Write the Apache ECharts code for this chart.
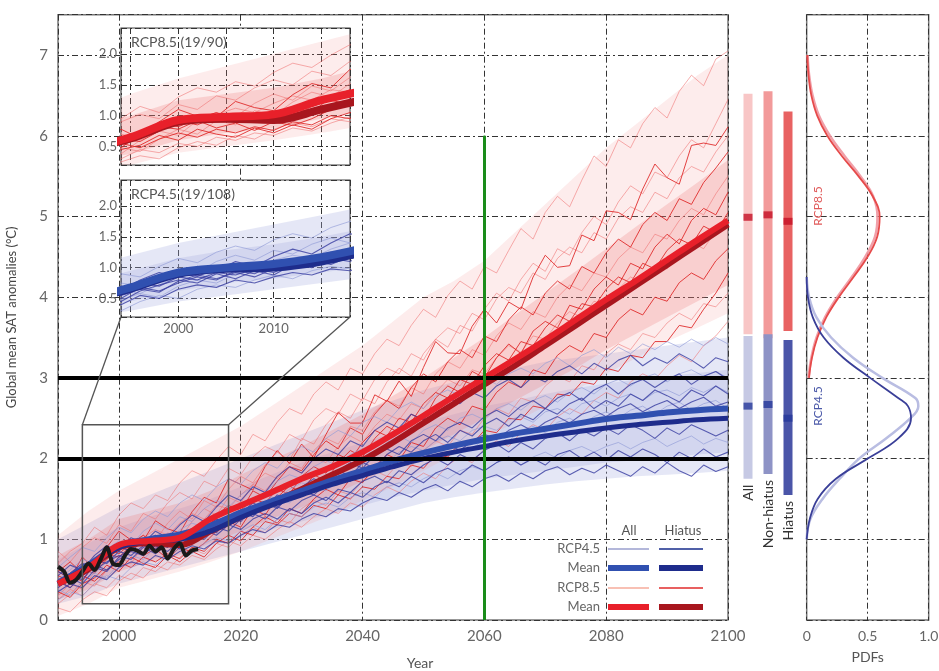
<!DOCTYPE html>
<html><head><meta charset="utf-8">
<script src="https://cdn.jsdelivr.net/npm/echarts@6/dist/echarts.min.js"></script>
<style>html,body{margin:0;padding:0;background:#fff}#c{width:939px;height:671px}</style>
</head><body><div id="c"></div>
<script>
// ---------- DATA ----------
const years2 = [1990,1992,1994,1996,1998,2000,2002,2004,2006,2008,
 2010,2012,2014,2016,2018,2020,2022,2024,2026,2028,
 2030,2032,2034,2036,2038,2040,2042,2044,2046,2048,
 2050,2052,2054,2056,2058,2060,2062,2064,2066,2068,
 2070,2072,2074,2076,2078,2080,2082,2084,2086,2088,
 2090,2092,2094,2096,2098,2100];
const years5 = [1990,1995,2000,2005,2010,2015,2020,2025,2030,2035,2040,2045,2050,2055,2060,2065,2070,2075,2080,2085,2090,2095,2100];

// RCP8.5 hiatus members
const h1 = [.60,.51,.78,.63,.90,1.10,.99,.98,1.23,1.13, 1.08,1.34,1.52,1.45,1.75,1.68,1.61,1.90,2.10,1.94, 2.18,2.01,2.30,2.57,2.44,2.44,2.79,2.71,2.96,2.77, 3.13,3.45,3.31,3.30,3.64,3.85,3.68,3.94,3.85,4.25, 4.52,4.37,4.39,4.77,4.70,5.07,5.05,4.96,5.34,5.65, 5.48,5.40,5.88,5.91,5.88,6.11];
const h2 = [.42,.55,.48,.70,.82,.78,.92,.80,.88,.76, .90,.84,.95,1.10,1.22,1.15,1.38,1.30,1.52,1.66, 1.58,1.80,1.72,1.95,2.10,2.02,2.25,2.40,2.32,2.55, 2.48,2.75,2.90,2.82,3.08,3.00,3.25,3.42,3.30,3.58, 3.70,3.62,3.90,3.85,4.10,4.25,4.15,4.42,4.35,4.62, 4.78,4.66,4.95,5.10,5.02,5.30];
const h3 = [.35,.28,.45,.52,.68,.60,.78,.70,.65,.80, .72,.85,.78,.95,1.05,.98,1.15,1.28,1.20,1.38, 1.32,1.50,1.62,1.55,1.75,1.70,1.90,2.05,1.98,2.20, 2.15,2.38,2.50,2.42,2.65,2.60,2.82,2.95,2.88,3.10, 3.05,3.28,3.40,3.32,3.55,3.50,3.72,3.85,3.78,4.00, 3.95,4.18,4.30,4.22,4.45,4.60];
const h4 = [.55,.48,.62,.58,.75,.92,.85,.98,.90,.95, 1.05,.98,1.15,1.25,1.18,1.35,1.50,1.45,1.62,1.56, 1.78,1.90,1.82,2.05,1.98,2.20,2.35,2.28,2.50,2.45, 2.68,2.82,2.75,2.98,2.92,3.15,3.30,3.22,3.45,3.40, 3.62,3.78,3.70,3.92,3.88,4.10,4.25,4.18,4.42,4.35, 4.58,4.72,4.65,4.88,4.80,5.05];
const h5 = [.60,.72,.58,.66,.90,.82,.95,1.05,.92,1.00, .95,1.12,1.05,1.30,1.42,1.35,1.60,1.52,1.72,1.90, 1.85,2.05,2.22,2.12,2.38,2.30,2.55,2.72,2.62,2.88, 3.05,2.95,3.20,3.35,3.25,3.52,3.45,3.72,3.88,3.78, 4.05,4.20,4.10,4.38,4.30,4.55,4.72,4.62,4.90,5.05, 4.95,5.22,5.15,5.42,5.60,5.80];
const h6 = [.50,.40,.55,.48,.62,.72,.65,.78,.72,.82, .76,.90,.85,1.00,.95,1.10,1.05,1.22,1.18,1.32, 1.28,1.42,1.38,1.55,1.50,1.65,1.62,1.78,1.75,1.92, 1.88,2.05,2.02,2.20,2.18,2.35,2.32,2.50,2.48,2.65, 2.62,2.80,2.78,2.95,2.92,3.12,3.08,3.28,3.25,3.45, 3.45,3.65,3.62,3.85,4.05,4.30];
// RCP8.5 all members
const p1 = [.70,.85,.95,1.15,1.05,1.30,1.45,1.38,1.55,1.48, 1.70,1.85,1.78,1.98,2.15,2.05,2.30,2.22,2.45,2.62, 2.55,2.80,2.95,2.85,3.12,3.05,3.30,3.48,3.40,3.65, 3.85,3.75,4.02,4.20,4.10,4.38,4.30,4.58,4.85,4.72, 5.05,5.25,5.12,5.45,5.75,5.62,5.95,5.85,6.15,6.35, 6.22,6.55,6.75,6.62,6.95,7.05];
const p2 = [.30,.45,.38,.60,.75,.68,.92,1.05,.98,1.20, 1.35,1.25,1.48,1.40,1.62,1.78,1.70,1.92,2.08,1.98, 2.25,2.18,2.42,2.58,2.50,2.75,2.68,2.95,3.12,3.02, 3.30,3.48,3.38,3.65,3.58,3.85,4.05,3.95,4.22,4.42, 4.32,4.60,4.52,4.80,5.00,4.90,5.18,5.38,5.28,5.55, 5.48,5.75,5.95,5.85,6.15,6.45];
const p3 = [.20,.32,.48,.42,.62,.78,.70,.92,.85,1.08, 1.00,1.22,1.38,1.30,1.52,1.45,1.68,1.82,1.75,1.95, 1.88,2.10,2.25,2.18,2.40,2.35,2.58,2.72,2.65,2.88, 2.80,3.05,3.20,3.12,3.35,3.28,3.52,3.68,3.60,3.82, 3.75,4.00,4.15,4.08,4.30,4.25,4.48,4.62,4.55,4.78, 4.72,4.95,5.10,5.02,5.28,5.50];
const p4 = [.15,.10,.25,.35,.30,.48,.58,.52,.68,.62, .78,.88,.82,.95,.90,1.05,1.15,1.08,1.25,1.20, 1.38,1.48,1.42,1.60,1.55,1.72,1.85,1.78,1.95,1.90, 2.10,2.22,2.15,2.35,2.30,2.50,2.62,2.55,2.75,2.70, 2.90,3.02,2.95,3.15,3.10,3.30,3.42,3.35,3.55,3.50, 3.68,3.80,3.72,3.92,3.88,4.05];
const p5 = [.85,.72,.90,1.02,.95,1.18,1.10,1.32,1.25,1.45, 1.58,1.50,1.72,1.65,1.88,1.80,2.02,2.15,2.08,2.30, 2.22,2.48,2.62,2.55,2.80,2.72,2.98,3.12,3.05,3.30, 3.22,3.48,3.62,3.55,3.80,3.72,3.98,4.12,4.05,4.30, 4.22,4.48,4.62,4.55,4.80,4.72,4.98,5.12,5.05,5.30, 5.22,5.48,5.62,5.55,5.80,6.00];
const p6 = [.25,.38,.30,.45,.40,.55,.50,.65,.60,.72, .68,.80,.75,.88,.98,.92,1.05,1.00,1.12,1.22, 1.15,1.28,1.38,1.32,1.45,1.40,1.55,1.65,1.58,1.72, 1.82,1.75,1.92,2.02,1.95,2.12,2.22,2.15,2.32,2.42, 2.35,2.52,2.62,2.55,2.72,2.82,2.75,2.95,3.05,2.98, 3.15,3.28,3.20,3.40,3.52,3.70];
const p7 = [.45,.58,.70,.62,.85,.95,.88,1.02,1.12,1.05, 1.20,1.32,1.25,1.42,1.38,1.55,1.68,1.60,1.78,1.90, 1.82,2.00,1.95,2.15,2.28,2.20,2.40,2.55,2.48,2.68, 2.62,2.82,2.98,2.90,3.10,3.05,3.25,3.40,3.32,3.52, 3.48,3.68,3.82,3.75,3.95,3.90,4.10,4.25,4.18,4.40, 4.35,4.55,4.68,4.60,4.82,5.00];
// RCP4.5 hiatus members
const b1 = [.55,.68,.62,.80,.92,.85,1.02,.95,1.10,1.02, 1.18,1.30,1.22,1.40,1.55,1.48,1.65,1.58,1.78,1.90, 1.82,2.00,2.12,2.05,2.22,2.15,2.35,2.45,2.38,2.55, 2.48,2.65,2.75,2.68,2.82,2.75,2.90,2.98,2.88,3.02, 2.95,3.08,3.15,3.05,3.18,3.10,3.22,3.28,3.15,3.25, 3.18,3.30,3.22,3.12,3.25,3.20];
const b2 = [.40,.52,.45,.62,.72,.80,.75,.90,.82,.95, .88,1.05,1.15,1.08,1.25,1.35,1.28,1.45,1.38,1.55, 1.65,1.58,1.75,1.85,1.78,1.95,1.88,2.05,2.15,2.08, 2.22,2.30,2.20,2.35,2.28,2.42,2.50,2.40,2.55,2.48, 2.62,2.55,2.68,2.75,2.62,2.72,2.65,2.80,2.72,2.85, 2.78,2.70,2.85,2.78,2.90,2.80];
const b3 = [.48,.40,.55,.65,.60,.78,.88,.82,.92,.85, .98,1.08,1.00,1.15,1.10,1.25,1.32,1.25,1.40,1.35, 1.48,1.55,1.48,1.62,1.58,1.72,1.78,1.70,1.85,1.80, 1.92,2.00,1.92,2.05,1.98,2.10,2.18,2.08,2.20,2.12, 2.25,2.32,2.22,2.35,2.28,2.38,2.30,2.42,2.35,2.25, 2.38,2.30,2.42,2.35,2.28,2.35];
const b4 = [.35,.45,.40,.55,.50,.65,.72,.68,.80,.75, .85,.92,.88,.98,.95,1.05,1.12,1.08,1.18,1.15, 1.25,1.32,1.28,1.38,1.35,1.45,1.52,1.48,1.58,1.52, 1.62,1.68,1.60,1.72,1.65,1.75,1.80,1.72,1.82,1.75, 1.85,1.90,1.80,1.88,1.82,1.92,1.85,1.78,1.90,1.82, 1.95,1.85,1.78,1.92,1.84,1.90];
const b5 = [.60,.52,.68,.75,.70,.85,.80,.92,.88,.98, .92,1.05,1.12,1.05,1.18,1.12,1.25,1.32,1.25,1.38, 1.32,1.45,1.52,1.45,1.58,1.52,1.65,1.72,1.65,1.78, 1.70,1.82,1.88,1.80,1.92,1.85,1.95,2.02,1.92,2.00, 1.92,2.05,2.10,2.00,2.08,1.98,2.10,2.02,2.12,2.05, 1.95,2.08,2.00,2.12,2.02,2.08];
const b6 = [.50,.58,.70,.65,.82,.90,.86,.98,1.05,.96, 1.02,1.10,1.18,1.12,1.28,1.22,1.38,1.45,1.40,1.52, 1.60,1.55,1.68,1.78,1.72,1.85,1.92,1.86,1.98,2.06, 2.00,2.12,2.18,2.10,2.22,2.30,2.24,2.35,2.42,2.34, 2.45,2.52,2.44,2.55,2.60,2.52,2.62,2.68,2.58,2.66, 2.72,2.62,2.70,2.76,2.65,2.70];
const b7 = [.45,.55,.50,.68,.62,.75,.85,.80,.95,.90, 1.05,1.00,1.12,1.25,1.18,1.32,1.45,1.38,1.55,1.50, 1.65,1.75,1.68,1.85,1.95,1.88,2.05,2.12,2.05,2.22, 2.30,2.22,2.38,2.45,2.38,2.52,2.60,2.52,2.65,2.72, 2.62,2.75,2.82,2.72,2.85,2.92,2.80,2.92,2.98,2.88, 2.98,3.05,2.92,3.02,3.08,2.98];
// RCP4.5 all members
const l1 = [.65,.78,.90,.85,1.02,1.15,1.08,1.25,1.35,1.28, 1.45,1.55,1.48,1.65,1.75,1.68,1.85,1.95,1.88,2.05, 2.15,2.08,2.25,2.35,2.28,2.45,2.52,2.45,2.62,2.70, 2.62,2.78,2.85,2.78,2.92,3.00,2.92,3.05,3.12,3.05, 3.18,3.25,3.15,3.28,3.35,3.25,3.38,3.30,3.42,3.35, 3.45,3.38,3.48,3.40,3.50,3.42];
const l2 = [.50,.62,.75,.70,.88,.98,.92,1.10,1.20,1.12, 1.28,1.22,1.38,1.48,1.40,1.55,1.65,1.58,1.72,1.80, 1.75,1.90,1.98,1.90,2.05,2.12,2.05,2.20,2.28,2.20, 2.35,2.42,2.35,2.50,2.55,2.48,2.62,2.68,2.60,2.72, 2.78,2.70,2.82,2.88,2.80,2.92,2.98,2.90,3.00,3.05, 2.95,3.05,3.10,3.02,3.08,3.00];
const l3 = [.38,.30,.48,.58,.52,.70,.80,.75,.90,1.00, .95,1.08,1.18,1.12,1.25,1.32,1.28,1.42,1.50,1.45, 1.58,1.65,1.60,1.72,1.80,1.75,1.88,1.95,1.90,2.02, 2.08,2.02,2.15,2.20,2.12,2.25,2.30,2.22,2.35,2.40, 2.32,2.45,2.50,2.42,2.52,2.58,2.50,2.60,2.65,2.55, 2.65,2.70,2.60,2.68,2.72,2.62];
const l4 = [.25,.35,.30,.45,.55,.50,.65,.72,.68,.80, .88,.82,.95,1.02,.98,1.10,1.18,1.12,1.25,1.32, 1.28,1.40,1.45,1.40,1.52,1.58,1.52,1.65,1.70,1.65, 1.75,1.82,1.75,1.85,1.90,1.85,1.95,2.00,1.92,2.02, 2.08,2.00,2.10,2.15,2.08,2.15,2.20,2.12,2.20,2.25, 2.15,2.22,2.28,2.18,2.25,2.20];
const l5 = [.42,.52,.62,.58,.72,.85,.80,.95,1.05,.98, 1.12,1.20,1.15,1.30,1.40,1.35,1.48,1.55,1.50,1.62, 1.70,1.65,1.78,1.85,1.80,1.92,2.00,1.95,2.08,2.15, 2.10,2.22,2.28,2.22,2.35,2.40,2.35,2.48,2.52,2.45, 2.58,2.62,2.55,2.68,2.72,2.65,2.75,2.80,2.72,2.82, 2.85,2.78,2.88,2.82,2.90,2.82];

// ensemble envelopes (5-yearly): full range and central core
const lower85 = [.05,.2,.4,.5,.6,.72,.85,1.0,1.15,1.3,1.48,1.65,1.85,2.05,2.25,2.45,2.65,2.85,3.05,3.25,3.45,3.62,3.8];
const upper85 = [1.05,1.35,1.6,1.8,2.0,2.2,2.4,2.65,2.9,3.15,3.4,3.7,4.0,4.2,4.45,4.8,5.15,5.5,5.85,6.15,6.45,6.75,7.0];
const core85Lo = [.25,.38,.6,.72,.8,.95,1.1,1.25,1.4,1.55,1.72,1.9,2.1,2.3,2.5,2.72,2.92,3.12,3.35,3.55,3.75,3.95,4.15];
const core85Hi = [.8,1.0,1.25,1.35,1.45,1.6,1.8,1.98,2.15,2.35,2.55,2.78,3.0,3.25,3.5,3.78,4.05,4.32,4.6,4.88,5.15,5.42,5.7];
const lower45 = [.2,.3,.45,.55,.65,.75,.85,.95,1.05,1.15,1.25,1.35,1.45,1.52,1.58,1.63,1.68,1.72,1.75,1.78,1.8,1.82,1.85];
const upper45 = [1.0,1.2,1.4,1.55,1.7,1.85,2.0,2.15,2.3,2.45,2.6,2.72,2.85,2.95,3.05,3.12,3.2,3.25,3.3,3.35,3.4,3.45,3.5];
const core45Lo = [.3,.45,.62,.75,.82,.92,1.02,1.12,1.22,1.32,1.42,1.52,1.6,1.68,1.75,1.8,1.85,1.9,1.95,1.98,2.02,2.05,2.08];
const core45Hi = [.75,.95,1.15,1.28,1.38,1.5,1.65,1.8,1.95,2.08,2.2,2.32,2.45,2.55,2.65,2.72,2.8,2.87,2.93,2.98,3.02,3.06,3.1];

// ensemble means (5-yearly)
const mean85All = [.45,.65,.93,.98,1.02,1.25,1.42,1.58,1.75,1.9,2.08,2.3,2.53,2.77,3.0,3.23,3.47,3.72,3.97,4.21,4.46,4.71,4.95];
const mean85Hia = [.45,.63,.9,.95,.93,1.1,1.28,1.45,1.62,1.8,1.98,2.2,2.44,2.68,2.92,3.15,3.4,3.65,3.9,4.15,4.4,4.65,4.9];
const mean45All = [.45,.68,.92,1.0,1.06,1.17,1.33,1.47,1.6,1.73,1.85,1.97,2.07,2.16,2.24,2.31,2.37,2.43,2.49,2.53,2.57,2.6,2.62];
const mean45Hia = [.45,.66,.9,.98,1.0,1.1,1.27,1.42,1.55,1.68,1.79,1.9,2.0,2.08,2.15,2.22,2.28,2.33,2.38,2.42,2.45,2.48,2.5];

// observations
const obsYears = [1990,1991,1992,1993,1994,1995,1996,1997,1998,1999,2000,2001,2002,2003,2004,2005,2006,2007,2008,2009,2010,2011,2012,2013];
const obsVals = [.66,.60,.46,.50,.60,.70,.62,.75,.90,.70,.68,.80,.88,.86,.82,.92,.85,.90,.76,.88,.95,.80,.86,.88];

// 2100 ranges (All / Non-hiatus / Hiatus)
const barCats = ['All','Non-hiatus','Hiatus'];
const r85Low = [3.54,3.49,3.58], r85High = [6.52,6.55,6.30], r85Mean = [4.99,5.02,4.94];
const r45Low = [1.75,1.81,1.55], r45High = [3.52,3.54,3.47], r45Mean = [2.65,2.67,2.50];

// PDFs
const pdfT85 = [3.0,3.25,3.5,3.75,4.0,4.25,4.5,4.75,5.0,5.25,5.5,5.75,6.0,6.25,6.5,6.75,7.0];
const pdf85All = [.015,.038,.08,.15,.25,.37,.48,.56,.58,.545,.44,.31,.19,.10,.048,.02,.007];
const pdf85Hia = [.019,.043,.088,.16,.263,.384,.499,.578,.598,.541,.424,.288,.169,.086,.038,.015,.005];
const pdfT45 = [1.0,1.25,1.5,1.75,2.0,2.25,2.5,2.65,2.75,3.0,3.25,3.5,3.75,4.0,4.25];
const pdf45All = [0,.03,.13,.27,.43,.65,.85,.915,.89,.62,.38,.2,.08,.02,0];
const pdf45Hia = [0,.025,.09,.24,.5,.75,.855,.83,.75,.52,.3,.14,.05,.01,0];

// threshold / marker lines
const warmLevels = [2, 3];
const markYear = 2060, markTop = 6;
const insetX = [1994, 2018], insetY = [0.2, 2.42];

// ---------- CHART ----------
const FONT = 'Lato, "Open Sans", sans-serif';
const GL = {color:'#333', width:1, type:[6,3,2,3]};
const C = {
  pink:'rgba(238,110,110,0.55)', red:'rgba(222,35,35,0.85)', pinkBand:'rgba(245,140,140,0.17)', pinkCore:'rgba(240,115,115,0.24)',
  lblue:'rgba(145,155,215,0.65)', blue:'rgba(55,60,160,0.8)', blueBand:'rgba(170,175,225,0.30)', blueCore:'rgba(150,155,215,0.22)',
  m85:'#e8202a', m85h:'#a8161e', m45:'#3050b0', m45h:'#1e2c8c'
};
function pairs(xs, ys){ return xs.map((x,i)=>[x, ys[i]]); }
function member(vals, color, w, ai){ return {type:'line', xAxisIndex:ai, yAxisIndex:ai, data:pairs(years2, vals), symbol:'none', lineStyle:{color:color, width:w}, silent:true}; }
function meanLine(vals, color, w, ai){ return {type:'line', xAxisIndex:ai, yAxisIndex:ai, data:pairs(years5, vals), symbol:'none', smooth:0.35, lineStyle:{color:color, width:w}, silent:true}; }
function band(lo, hi, color, ai){
  return {type:'custom', xAxisIndex:ai, yAxisIndex:ai, silent:true, clip:true, encode:{x:0, y:1},
    data:[[years5[0], lo[0]]],
    renderItem:function(params, api){
      const pts = [];
      for (let i = 0; i < years5.length; i++) pts.push(api.coord([years5[i], hi[i]]));
      for (let i = years5.length - 1; i >= 0; i--) pts.push(api.coord([years5[i], lo[i]]));
      return {type:'polygon', shape:{points:pts}, style:{fill:color}};
    }};
}
const red85 = [h1,h2,h3,h4,h5,h6], pink85 = [p1,p2,p3,p4,p5,p6,p7], blue45 = [b1,b2,b3,b4,b5,b6,b7], lb45 = [l1,l2,l3,l4,l5];

function bands45(ai){ return [band(lower45, upper45, C.blueBand, ai), band(core45Lo, core45Hi, C.blueCore, ai)]; }
function bands85(ai){ return [band(lower85, upper85, C.pinkBand, ai), band(core85Lo, core85Hi, C.pinkCore, ai)]; }
function lines85(ai){ return pink85.map(v=>member(v, C.pink, 1, ai)).concat(red85.map(v=>member(v, C.red, 1, ai))); }
function lines45(ai){ return lb45.map(v=>member(v, C.lblue, 1, ai)).concat(blue45.map(v=>member(v, C.blue, 1.1, ai))); }

let series = [];
// main panel
series = series.concat(bands45(0), bands85(0), lines85(0), lines45(0));
series.push(meanLine(mean85Hia, C.m85h, 6, 0));
series.push(meanLine(mean45All, C.m45, 6, 0));
series.push(meanLine(mean45Hia, C.m45h, 5, 0));
series.push(meanLine(mean85All, C.m85, 6, 0));
series.push({type:'line', xAxisIndex:0, yAxisIndex:0, data:pairs(obsYears, obsVals), symbol:'none', smooth:0.3, lineStyle:{color:'#1a1a1a', width:4}, z:4, silent:true});
series.push({type:'line', xAxisIndex:0, yAxisIndex:0, data:[], z:4, silent:true,
  markLine:{silent:true, symbol:'none', label:{show:false}, animation:false,
    data: warmLevels.map(v=>({yAxis:v, lineStyle:{color:'#000', width:4, type:'solid'}})).concat([
      [{coord:[markYear,0], lineStyle:{color:'#1a8c1a', width:3, type:'solid'}}, {coord:[markYear, markTop]}]
    ])}});
// upper inset (RCP8.5)
series = series.concat(bands85(1), lines85(1));
series.push(meanLine(mean85Hia, C.m85h, 8, 1));
series.push(meanLine(mean85All, C.m85, 8, 1));
// lower inset (RCP4.5)
series = series.concat(bands45(2), lines45(2));
series.push(meanLine(mean45Hia, C.m45h, 8, 2));
series.push(meanLine(mean45All, C.m45, 8, 2));

// 2100 range bars
function rangeRender(colors, withLabel){
  return function(params, api){
    const i = api.value(0);
    const top = api.coord([i, api.value(2)]);
    const bot = api.coord([i, api.value(1)]);
    const w = 9;
    const ch = [{type:'rect', shape:{x:top[0]-w/2, y:top[1], width:w, height:bot[1]-top[1]}, style:{fill:colors[i]}}];
    if (withLabel) ch.push({type:'text', x:bot[0], y:bot[1]+6, rotation:Math.PI/2,
      style:{text:barCats[i], fill:'#333', font:'14px '+FONT, align:'right', verticalAlign:'middle'}});
    return {type:'group', children:ch};
  };
}
series.push({type:'custom', xAxisIndex:3, yAxisIndex:3, renderItem:rangeRender(['#f8c6c6','#f29a9a','#e86262'], false),
  encode:{x:0, y:[1,2]}, data:barCats.map((c,i)=>[i, r85Low[i], r85High[i]]), silent:true});
series.push({type:'custom', xAxisIndex:3, yAxisIndex:3, renderItem:rangeRender(['#c6c9e4','#8e93c6','#4a55a8'], true),
  encode:{x:0, y:[1,2]}, data:barCats.map((c,i)=>[i, r45Low[i], r45High[i]]), silent:true});
series.push({type:'scatter', xAxisIndex:3, yAxisIndex:3, symbol:'rect', symbolSize:[9,7], itemStyle:{color:'#c41026'}, data:barCats.map((c,i)=>[i, r85Mean[i]]), z:3, silent:true});
series.push({type:'scatter', xAxisIndex:3, yAxisIndex:3, symbol:'rect', symbolSize:[9,7], itemStyle:{color:'#26389a'}, data:barCats.map((c,i)=>[i, r45Mean[i]]), z:3, silent:true});

// PDFs
function pdfLine(d, t, color, w){ return {type:'line', xAxisIndex:4, yAxisIndex:4, data:d.map((v,i)=>[v, t[i]]), symbol:'none', smooth:0.4, lineStyle:{color:color, width:w}, silent:true}; }
series.push(pdfLine(pdf85All, pdfT85, 'rgba(240,150,160,0.9)', 2.5));
series.push(pdfLine(pdf85Hia, pdfT85, '#e64a4a', 1.8));
series.push(pdfLine(pdf45All, pdfT45, '#b9bde2', 2.5));
series.push(pdfLine(pdf45Hia, pdfT45, '#3a3f98', 1.8));

const lab = {color:'#666', fontFamily:FONT};
const option = {
  animation:false,
  backgroundColor:'#fff',
  grid:[
    {left:58, top:14.7, width:670, height:605.3, show:true, borderColor:'#777', borderWidth:1.5, backgroundColor:'transparent', outerBoundsMode:'none'},
    {left:121, top:28, width:229, height:137, show:true, borderColor:'#444', borderWidth:1.2, backgroundColor:'#fff', z:1, outerBoundsMode:'none'},
    {left:121, top:180, width:229, height:137, show:true, borderColor:'#444', borderWidth:1.2, backgroundColor:'#fff', z:1, outerBoundsMode:'none'},
    {left:738, top:14.7, width:60, height:605.3, show:false, outerBoundsMode:'none'},
    {left:806.7, top:14.7, width:122, height:605.3, show:true, borderColor:'#777', borderWidth:1.5, backgroundColor:'transparent', outerBoundsMode:'none'}
  ],
  xAxis:[
    {type:'value', gridIndex:0, min:1990, max:2100, splitNumber:5, axisLine:{show:false}, axisTick:{show:false},
     axisLabel:Object.assign({fontSize:15, margin:9, formatter:v=>(v%20===0?String(v):'')}, lab), splitLine:{show:true, lineStyle:GL}},
    {type:'value', gridIndex:1, min:insetX[0], max:insetX[1], splitNumber:5, z:1.5, axisLine:{show:false}, axisTick:{show:false},
     axisLabel:{show:false}, splitLine:{show:true, lineStyle:GL}},
    {type:'value', gridIndex:2, min:insetX[0], max:insetX[1], splitNumber:5, z:1.5, axisLine:{show:false}, axisTick:{show:false},
     axisLabel:Object.assign({fontSize:13, margin:5, formatter:v=>(v%10===0?String(v):'')}, lab), splitLine:{show:true, lineStyle:GL}},
    {type:'category', gridIndex:3, data:barCats, show:false},
    {type:'value', gridIndex:4, min:0, max:1, interval:0.5, axisLine:{show:false}, axisTick:{show:false},
     axisLabel:Object.assign({fontSize:14, margin:9, formatter:v=>(v===0?'0':v.toFixed(1))}, lab), splitLine:{show:true, lineStyle:GL},
     name:'PDFs', nameLocation:'middle', nameGap:30, nameTextStyle:{fontSize:14, color:'#555', fontFamily:FONT}}
  ],
  yAxis:[
    {type:'value', gridIndex:0, min:0, max:7.5, interval:1, axisLine:{show:false}, axisTick:{show:false},
     axisLabel:Object.assign({fontSize:15, margin:10, formatter:v=>(Number.isInteger(v)?String(v):'')}, lab), splitLine:{show:true, lineStyle:GL},
     name:'Global mean SAT anomalies (°C)', nameLocation:'middle', nameGap:40, nameTextStyle:{fontSize:13, color:'#444', fontFamily:FONT}},
    {type:'value', gridIndex:1, min:insetY[0], max:insetY[1], splitNumber:4, z:1.5, axisLine:{show:false}, axisTick:{show:false},
     axisLabel:Object.assign({fontSize:13, margin:4, formatter:v=>{const r=Math.round(v*2)/2; return Math.abs(v-r)<1e-6?r.toFixed(1):'';}}, lab), splitLine:{show:true, lineStyle:GL}},
    {type:'value', gridIndex:2, min:insetY[0], max:insetY[1], splitNumber:4, z:1.5, axisLine:{show:false}, axisTick:{show:false},
     axisLabel:Object.assign({fontSize:13, margin:4, formatter:v=>{const r=Math.round(v*2)/2; return Math.abs(v-r)<1e-6?r.toFixed(1):'';}}, lab), splitLine:{show:true, lineStyle:GL}},
    {type:'value', gridIndex:3, min:0, max:7.5, show:false},
    {type:'value', gridIndex:4, min:0, max:7.5, interval:1, axisLine:{show:false}, axisTick:{show:false}, axisLabel:{show:false}, splitLine:{show:true, lineStyle:GL}}
  ],
  series: series
};
const chart = echarts.init(document.getElementById('c'));
chart.setOption(option);

// annotations positioned from the axes
const bTL = chart.convertToPixel({gridIndex:0}, [insetX[0], insetY[1]]);
const bBR = chart.convertToPixel({gridIndex:0}, [insetX[1], insetY[0]]);
const iBL = chart.convertToPixel({gridIndex:2}, [insetX[0], insetY[0]]);
const iBR = chart.convertToPixel({gridIndex:2}, [insetX[1], insetY[0]]);
const txt = (x, y, s, o) => Object.assign({type:'text', x:x, y:y, z:6, style:Object.assign({text:s, font:'13px '+FONT, fill:'#555', align:'left', verticalAlign:'middle'}, o||{})});
const seg = (x1, y1, x2, y2, color, w) => ({type:'line', z:6, shape:{x1:x1, y1:y1, x2:x2, y2:y2}, style:{stroke:color, lineWidth:w}});
const lx = [608, 649, 659, 703];
const rows = [
  {y:549, t:'RCP4.5', a:'#b3b7da', aw:2, h:'#5060a8', hw:2},
  {y:568, t:'Mean', a:C.m45, aw:6, h:C.m45h, hw:6},
  {y:588, t:'RCP8.5', a:'#f8c0b4', aw:2, h:'#e86060', hw:2},
  {y:607, t:'Mean', a:C.m85, aw:6, h:C.m85h, hw:6}
];
const els = [
  {type:'rect', z:6, shape:{x:bTL[0], y:bTL[1], width:bBR[0]-bTL[0], height:bBR[1]-bTL[1]}, style:{fill:'none', stroke:'#555', lineWidth:1.5}},
  seg(bTL[0], bTL[1], iBL[0], iBL[1], '#555', 1.3),
  seg(bBR[0], bTL[1], iBR[0], iBR[1], '#555', 1.3),
  txt(131, 42, 'RCP8.5 (19/90)', {font:'14px '+FONT}),
  txt(131, 194, 'RCP4.5 (19/108)', {font:'14px '+FONT}),
  txt(420, 663, 'Year', {align:'center', font:'14px '+FONT}),
  txt(818, 206, 'RCP8.5', {align:'center', fill:'#e05a5a', font:'12px '+FONT}),
  txt(818, 406, 'RCP4.5', {align:'center', fill:'#4a58a8', font:'12px '+FONT}),
  txt(629, 531, 'All', {align:'center'}),
  txt(683, 531, 'Hiatus', {align:'center'})
];
els[6].rotation = Math.PI/2; els[7].rotation = Math.PI/2;
rows.forEach(r => {
  els.push(txt(600, r.y, r.t, {align:'right', fill:'#666'}));
  els.push(seg(lx[0], r.y, lx[1], r.y, r.a, r.aw));
  els.push(seg(lx[2], r.y, lx[3], r.y, r.h, r.hw));
});
chart.setOption({graphic:{elements:els}});
</script>
</body></html>
